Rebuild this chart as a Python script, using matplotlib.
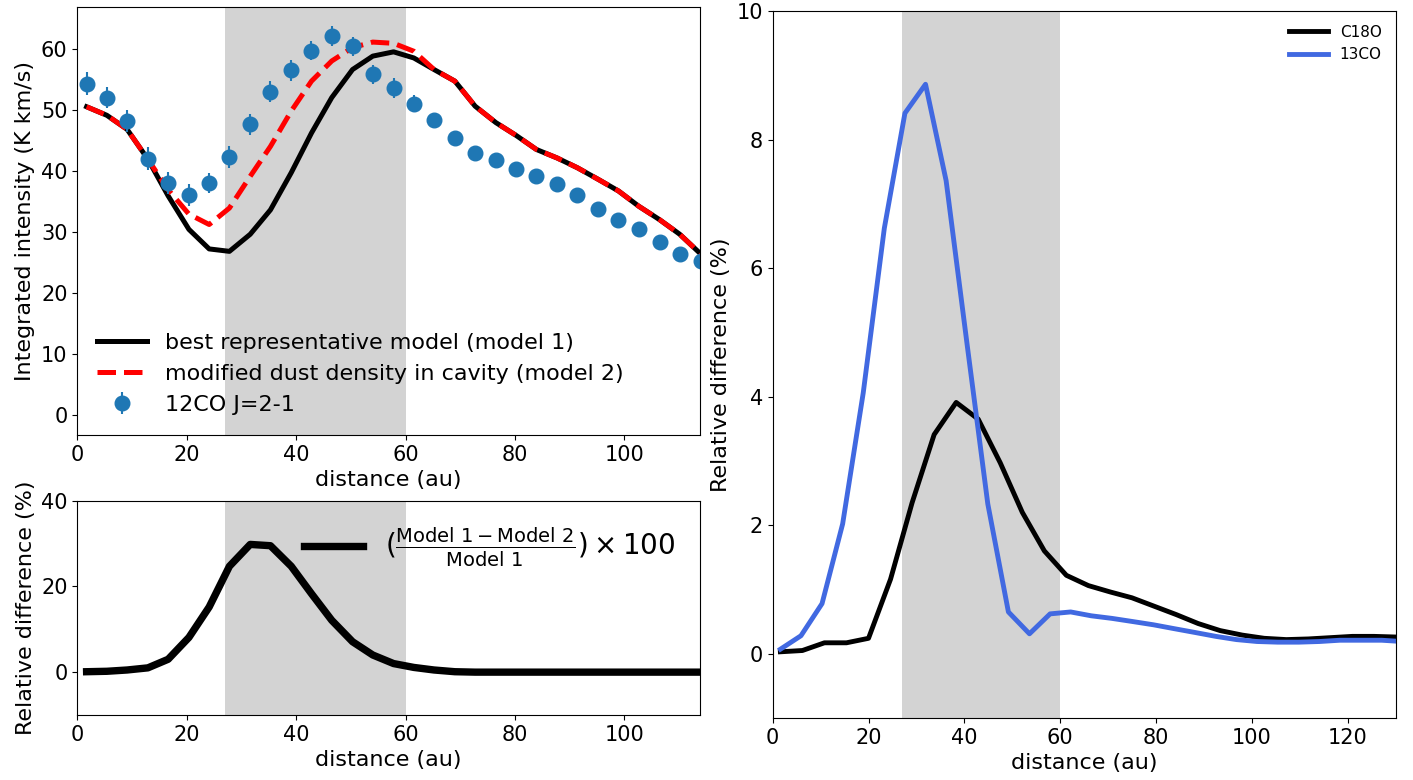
import numpy as np
import matplotlib
matplotlib.use("Agg")
import matplotlib.pyplot as plt

plt.rcParams['font.family'] = ['DejaVu Sans']
plt.rcParams['font.size'] = 16
plt.rcParams['xtick.labelsize'] = 15
plt.rcParams['ytick.labelsize'] = 15

# ---- Left panels data (12CO) ----
r12 = [1.7, 5.4, 9.1, 12.9, 16.6, 20.4, 24.1, 27.8, 31.6, 35.3, 39.1, 42.8, 46.5,
       50.3, 54.0, 57.8, 61.5, 65.2, 69.0, 72.7, 76.5, 80.2, 83.9, 87.7, 91.4,
       95.2, 98.9, 102.6, 106.4, 110.1, 113.9]
obs12 = [54.4, 52.1, 48.3, 42.1, 38.1, 36.2, 38.1, 42.3, 47.7, 53.1, 56.6, 59.8, 62.2,
         60.5, 55.9, 53.7, 51.1, 48.4, 45.5, 43.1, 41.9, 40.4, 39.2, 38.0, 36.2,
         33.9, 32.1, 30.5, 28.4, 26.5, 25.3]
err12 = [1.9, 1.7, 1.8, 1.9, 1.8, 1.8, 1.7, 1.8, 1.7, 1.7, 1.7, 1.6, 1.6,
         1.5, 1.6, 1.6, 1.4, 0.9, 0.9, 0.9, 0.9, 0.9, 0.9, 0.9, 0.9,
         0.9, 0.9, 0.9, 0.9, 0.9, 0.9]
model1 = [50.6, 49.2, 46.9, 42.0, 36.0, 30.5, 27.3, 26.9, 29.7, 33.7, 39.8, 46.3, 52.1,
          56.7, 58.9, 59.6, 58.6, 56.7, 54.8, 50.7, 48.0, 45.9, 43.6, 42.2, 40.6,
          38.7, 36.8, 34.3, 32.1, 29.7, 26.5]
model2 = [50.6, 49.2, 46.9, 42.0, 37.0, 33.0, 31.3, 34.0, 39.2, 44.1, 49.9, 54.8, 58.1,
          60.3, 61.2, 61.0, 59.7, 56.7, 54.8, 50.7, 48.0, 45.9, 43.6, 42.2, 40.6,
          38.7, 36.8, 34.3, 32.1, 29.7, 26.5]
reldiff = [0.1, 0.2, 0.5, 1.0, 3.0, 8.1, 15.2, 24.7, 29.8, 29.5, 24.7, 18.3, 12.1,
           7.1, 4.0, 2.0, 1.1, 0.5, 0.1, 0.0, 0.0, 0.0, 0.0, 0.0, 0.0,
           0.0, 0.0, 0.0, 0.0, 0.0, 0.0]

# ---- Right panel data ----
r_c18o = [1.6, 6.2, 10.8, 15.4, 20.0, 24.6, 29.1, 33.7, 38.3, 42.9, 47.5, 52.1, 56.7,
          61.3, 65.9, 70.5, 75.0, 79.6, 84.2, 88.8, 93.4, 98.0, 102.6, 107.2, 111.8,
          116.4, 121.0, 125.5, 130.1]
c18o = [0.03, 0.05, 0.17, 0.17, 0.24, 1.16, 2.35, 3.41, 3.91, 3.65, 2.97, 2.20, 1.60,
        1.22, 1.06, 0.96, 0.87, 0.74, 0.61, 0.47, 0.36, 0.29, 0.24, 0.22, 0.23,
        0.25, 0.27, 0.27, 0.26]
r_13co = [1.6, 5.9, 10.3, 14.6, 18.9, 23.3, 27.6, 31.9, 36.2, 40.6, 44.9, 49.2, 53.6,
          57.9, 62.2, 66.5, 70.8, 75.2, 79.5, 83.8, 88.2, 92.5, 96.8, 101.1, 105.4,
          109.8, 114.1, 118.4, 122.7, 127.1, 131.4]
co13 = [0.07, 0.28, 0.78, 2.02, 4.06, 6.62, 8.41, 8.86, 7.36, 4.8, 2.33, 0.65, 0.31,
        0.62, 0.65, 0.59, 0.55, 0.50, 0.45, 0.39, 0.33, 0.27, 0.22, 0.19, 0.18,
        0.18, 0.19, 0.21, 0.21, 0.21, 0.19]

cavity = (27, 60)

fig = plt.figure(figsize=(14.13, 7.8), dpi=100)
W, H = 1413.0, 780.0

def axes_px(l, t, r, b):
    return fig.add_axes([l / W, 1 - b / H, (r - l) / W, (b - t) / H])

# Top-left
ax1 = axes_px(77.3, 6.7, 700.0, 435.0)
ax1.axvspan(*cavity, color='lightgray', lw=0)
ax1.plot(r12, model1, color='black', lw=3.6, label='best representative model (model 1)')
ax1.plot(r12, model2, color='red', lw=3.6, ls='--', label='modified dust density in cavity (model 2)')
ax1.errorbar(r12, obs12, yerr=err12, fmt='o', color='#1f77b4', markersize=10.5,
             elinewidth=1.5, label='12CO J=2-1')
ax1.set_xlim(0, 113.8)
ax1.set_ylim(-3.2, 67)
ax1.set_xticks([0, 20, 40, 60, 80, 100])
ax1.set_yticks([0, 10, 20, 30, 40, 50, 60])
ax1.set_xlabel('distance (au)')
ax1.set_ylabel('Integrated intensity (K km/s)')
ax1.legend(loc='lower left', frameon=False, fontsize=16, handlelength=2.25)

# Bottom-left
ax2 = axes_px(77.3, 500.7, 700.0, 715.0)
ax2.axvspan(*cavity, color='lightgray', lw=0)
ax2.plot(r12, reldiff, color='black', lw=5.3,
         label=r'$(\frac{\mathrm{Model\ 1 - Model\ 2}}{\mathrm{Model\ 1}}) \times 100$')
ax2.set_xlim(0, 113.8)
ax2.set_ylim(-10, 40)
ax2.set_xticks([0, 20, 40, 60, 80, 100])
ax2.set_yticks([0, 20, 40])
ax2.set_xlabel('distance (au)')
ax2.set_ylabel('Relative difference (%)')
ax2.legend(loc='upper right', frameon=False, fontsize=20, handlelength=2.1)

# Right
ax3 = axes_px(772.7, 11.0, 1395.5, 718.0)
ax3.axvspan(*cavity, color='lightgray', lw=0)
ax3.plot(r_c18o, c18o, color='black', lw=3.5, label='C18O')
ax3.plot(r_13co, co13, color='royalblue', lw=3.5, label='13CO')
ax3.set_xlim(0, 130)
ax3.set_ylim(-1, 10)
ax3.set_xticks([0, 20, 40, 60, 80, 100, 120])
ax3.set_yticks([0, 2, 4, 6, 8, 10])
ax3.set_xlabel('distance (au)')
ax3.set_ylabel('Relative difference (%)')
ax3.legend(loc='upper right', frameon=False, fontsize=11, handlelength=2.5)

fig.savefig('out.png', dpi=100)
